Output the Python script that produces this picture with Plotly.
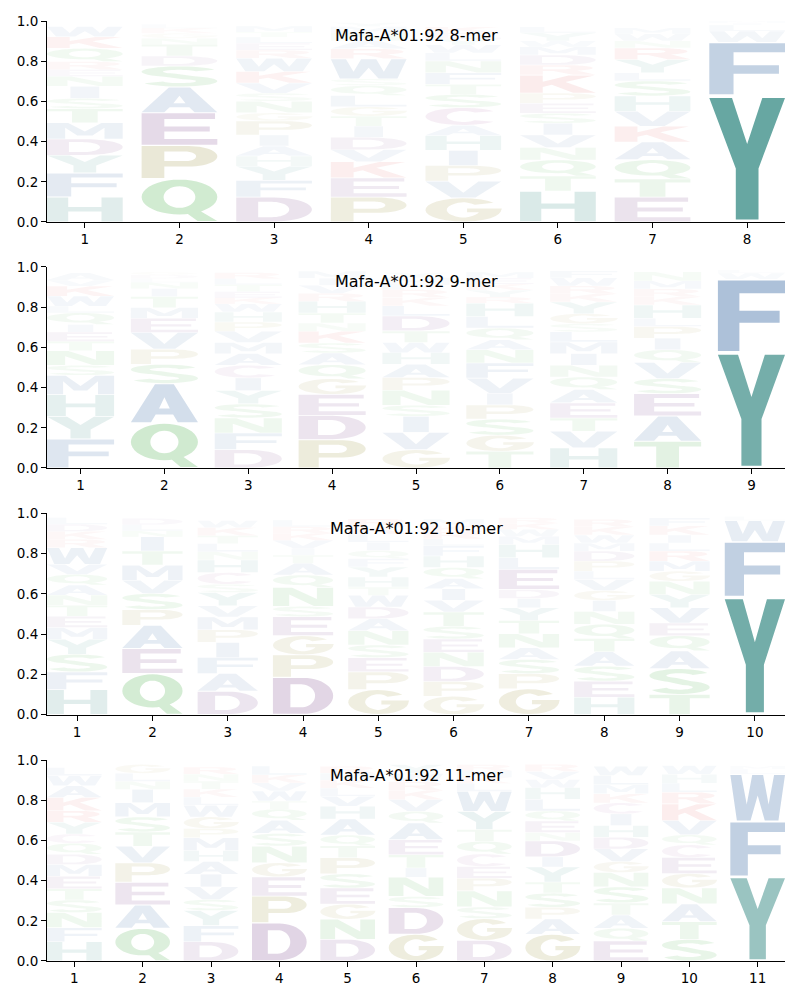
import math
import plotly.graph_objects as go

# ---------------- data (letters bottom->top, heights = probabilities) ----------------
allele = "Mafa-A*01:92"
lengths = [8, 9, 10, 11]

mer8_letters = ["HFYDMTSINERQKW", "QPEASDTNGKL", "DFYHAIPGNSVKWRELTM", "PEKVDITGLQSWRANMY",
                "GVPIHACSTFNLWYEK", "HTQNVISEPKRDMWYL", "ETQAKVHSLYRNWM", "YFWLIM"]
mer8_heights = [
    [.124, .12, .088, .081, .081, .07, .051, .06, .05, .033, .04, .066, .058, .05],
    [.215, .166, .163, .128, .104, .05, .058, .03, .025, .025, .02],
    [.124, .083, .071, .05, .05, .055, .07, .04, .058, .04, .05, .058, .066, .04, .035, .03, .025, .03],
    [.124, .096, .08, .06, .061, .056, .05, .046, .056, .05, .033, .1, .05, .04, .04, .03, .02],
    [.12, .083, .078, .075, .075, .05, .088, .066, .05, .058, .058, .04, .04, .03, .03, .03],
    [.154, .075, .08, .061, .063, .058, .05, .05, .05, .09, .05, .05, .04, .03, .04, .03],
    [.124, .09, .096, .088, .078, .075, .076, .075, .04, .066, .058, .035, .035, .03],
    [.63, .265, .055, .03, .01, .01],
]

mer9_letters = ["FYHMSNTEIQLWKVA", "QASPVEMTINLDG", "DFNSYICAMVPHWKETLR", "PDEGQASKNTHRVIM",
                "GVISNPAHWTDLKRFMY", "TGSPIVFNAQLHRYKEM", "HVTEAQNIMLSGYKRWF", "TAESVQIPLHKRMN", "YFWL"]
mer9_heights = [
    [.144, .113, .108, .096, .05, .073, .046, .046, .038, .058, .033, .05, .05, .03, .036],
    [.224, .196, .096, .075, .083, .071, .053, .055, .04, .03, .02, .018, .015],
    [.091, .083, .075, .07, .066, .063, .063, .058, .055, .056, .046, .05, .041, .03, .03, .035, .03, .03],
    [.141, .121, .104, .078, .07, .058, .05, .058, .041, .05, .058, .04, .04, .035, .035],
    [.091, .086, .08, .055, .075, .063, .066, .058, .05, .058, .075, .05, .04, .04, .03, .03, .025],
    [.083, .08, .08, .071, .058, .075, .075, .066, .05, .058, .058, .066, .03, .035, .03, .03, .03],
    [.1, .083, .066, .075, .066, .063, .058, .058, .058, .05, .041, .05, .058, .04, .04, .04, .035],
    [.133, .126, .111, .075, .08, .063, .058, .058, .041, .066, .04, .04, .04, .045],
    [.575, .365, .03, .015],
]

mer10_letters = ["HFSYMETNAQVWRKDL", "QEAPSVMTINLD", "DAFIPMVYSCHNLTKW", "DPGESNQATIVKRL",
                 "GPESNADWTHYFQILKR", "GPDNESTVIAQHFLRKM", "GPSANTYIDELHMWKR", "HESATQNIGVLPDMWKR",
                 "TSAQEVYNGMRLIKF", "YFWL"]
mer10_heights = [
    [.124, .088, .088, .075, .058, .056, .055, .05, .05, .053, .05, .083, .041, .04, .035, .033],
    [.204, .124, .116, .078, .08, .066, .075, .07, .071, .03, .03, .031],
    [.116, .088, .08, .075, .063, .063, .056, .066, .041, .058, .063, .041, .04, .04, .04, .035],
    [.186, .111, .095, .095, .051, .095, .061, .058, .041, .033, .04, .035, .033, .033],
    [.124, .088, .071, .063, .071, .06, .058, .058, .041, .05, .05, .041, .041, .041, .04, .04, .036],
    [.091, .073, .075, .071, .066, .063, .071, .058, .058, .05, .055, .058, .05, .035, .035, .03, .033],
    [.128, .075, .071, .058, .07, .066, .063, .046, .045, .1, .058, .066, .04, .035, .03, .028],
    [.086, .08, .075, .071, .066, .071, .063, .055, .05, .055, .041, .05, .05, .04, .04, .04, .038],
    [.1, .129, .088, .075, .063, .076, .066, .066, .05, .05, .05, .04, .04, .045, .04],
    [.585, .275, .105, .02],
]

mer11_letters = ["HFNSTEMDQCYRKAWL", "QAEPVTSMINLG", "DFYSVIAHMPGWLKTNR", "DPEGNSAQTWVKL",
                 "DNGESPTQAHVLKMR", "GDSNITEAQVKRWY", "DGSNPECQTYWLKMR", "GAPSTYIDNEQLHWVR",
                 "EQATSNGVDHICKMLW", "STANGECQVKRLHW", "YFWLM"]
mer11_heights = [
    [.096, .07, .075, .063, .055, .063, .058, .051, .055, .046, .058, .058, .066, .058, .05, .041],
    [.163, .116, .113, .096, .083, .071, .075, .071, .066, .04, .04, .044],
    [.096, .08, .075, .055, .063, .063, .063, .055, .063, .046, .058, .058, .04, .04, .04, .035, .035],
    [.19, .133, .096, .07, .083, .063, .066, .055, .04, .05, .04, .04, .044],
    [.108, .1, .075, .08, .071, .08, .06, .053, .08, .063, .05, .04, .04, .035, .034],
    [.133, .133, .055, .096, .046, .066, .075, .083, .058, .058, .045, .045, .04, .044],
    [.103, .108, .058, .08, .063, .058, .063, .063, .058, .09, .1, .04, .03, .033, .03],
    [.133, .076, .058, .071, .055, .075, .05, .08, .041, .058, .05, .058, .058, .04, .04, .036],
    [.1, .063, .066, .06, .08, .071, .055, .063, .058, .058, .058, .055, .045, .045, .046, .046],
    [.108, .088, .088, .08, .071, .08, .063, .05, .071, .083, .058, .045, .044, .044],
    [.42, .275, .235, .025, .015],
]

panel_letters = [mer8_letters, mer9_letters, mer10_letters, mer11_letters]
panel_heights = [mer8_heights, mer9_heights, mer10_heights, mer11_heights]

# ---------------- colours ----------------
BLUE = (29, 85, 151)
TEAL = (15, 115, 107)
GREEN = (44, 160, 44)
OLIVE = (128, 118, 10)
PURPLE = (95, 30, 115)
RED = (214, 39, 40)
MAUVE = (150, 60, 140)
COLOR = {}
for c in "AVLIMFW":
    COLOR[c] = BLUE
for c in "YH":
    COLOR[c] = TEAL
for c in "STNQ":
    COLOR[c] = GREEN
for c in "GP":
    COLOR[c] = OLIVE
for c in "DE":
    COLOR[c] = PURPLE
for c in "KR":
    COLOR[c] = RED
COLOR["C"] = MAUVE


# ---------------- glyph outlines in a unit box ----------------
def arc(cx, cy, rx, ry, a0, a1, n=24):
    pts = []
    for i in range(n + 1):
        t = math.radians(a0 + (a1 - a0) * i / n)
        pts.append((cx + rx * math.cos(t), cy + ry * math.sin(t)))
    return pts


def stroke(line, tx, ty):
    P = [(u / tx, v / ty) for u, v in line]
    n = len(P)
    normals = []
    for i in range(n - 1):
        dx = P[i + 1][0] - P[i][0]
        dy = P[i + 1][1] - P[i][1]
        L = math.hypot(dx, dy) or 1.0
        normals.append((-dy / L, dx / L))
    left, right = [], []
    for i in range(n):
        if i == 0:
            nx, ny = normals[0]
            m = 0.5
        elif i == n - 1:
            nx, ny = normals[-1]
            m = 0.5
        else:
            a, b = normals[i - 1], normals[i]
            sx, sy = a[0] + b[0], a[1] + b[1]
            L = math.hypot(sx, sy)
            if L < 1e-9:
                nx, ny = a
                m = 0.5
            else:
                nx, ny = sx / L, sy / L
                d = nx * a[0] + ny * a[1]
                m = 0.5 / max(d, 0.35)
        x, y = P[i]
        left.append(((x + nx * m) * tx, (y + ny * m) * ty))
        right.append(((x - nx * m) * tx, (y - ny * m) * ty))
    return left + right[::-1]


def rect(u0, v0, u1, v1):
    return [(u0, v0), (u1, v0), (u1, v1), (u0, v1)]


TX, TY = 0.28, 0.17
GLYPHS = {
    "A": ([[(0, 0), (0.3, 0), (0.37, 0.2), (0.63, 0.2), (0.7, 0), (1, 0), (0.64, 1), (0.36, 1)]],
          [[(0.42, 0.36), (0.58, 0.36), (0.5, 0.66)]]),
    "C": ([stroke(arc(0.5, 0.5, 0.36, 0.415, 40, 320), TX, TY)], []),
    "D": ([[(0, 0)] + arc(0.5, 0.5, 0.5, 0.5, -90, 90) + [(0, 1)]],
          [[(0.29, 0.18)] + arc(0.47, 0.5, 0.23, 0.32, -90, 90) + [(0.29, 0.82)]]),
    "E": ([[(0, 0), (1, 0), (1, 0.18), (0.3, 0.18), (0.3, 0.42), (0.9, 0.42), (0.9, 0.58),
            (0.3, 0.58), (0.3, 0.82), (0.97, 0.82), (0.97, 1), (0, 1)]], []),
    "F": ([[(0, 0), (0.32, 0), (0.32, 0.4), (0.92, 0.4), (0.92, 0.57), (0.32, 0.57),
            (0.32, 0.82), (1, 0.82), (1, 1), (0, 1)]], []),
    "G": ([stroke(arc(0.5, 0.5, 0.36, 0.415, 40, 350) + [(0.86, 0.48), (0.55, 0.48)], TX, TY)], []),
    "H": ([[(0, 0), (0.28, 0), (0.28, 0.42), (0.72, 0.42), (0.72, 0), (1, 0), (1, 1),
            (0.72, 1), (0.72, 0.6), (0.28, 0.6), (0.28, 1), (0, 1)]], []),
    "I": ([rect(0.31, 0, 0.69, 1)], []),
    "K": ([[(0, 0), (0.3, 0), (0.3, 0.33), (0.42, 0.46), (0.7, 0), (1, 0), (0.6, 0.62),
            (0.98, 1), (0.64, 1), (0.3, 0.63), (0.3, 1), (0, 1)]], []),
    "L": ([[(0, 0), (1, 0), (1, 0.18), (0.32, 0.18), (0.32, 1), (0, 1)]], []),
    "M": ([[(0, 0), (0.24, 0), (0.24, 0.7), (0.4, 0.2), (0.6, 0.2), (0.76, 0.7), (0.76, 0),
            (1, 0), (1, 1), (0.72, 1), (0.5, 0.45), (0.28, 1), (0, 1)]], []),
    "N": ([[(0, 0), (0.27, 0), (0.27, 0.62), (0.68, 0), (1, 0), (1, 1), (0.73, 1),
            (0.73, 0.38), (0.32, 1), (0, 1)]], []),
    "P": ([[(0, 0), (0.3, 0), (0.3, 0.36)] + arc(0.62, 0.68, 0.38, 0.32, -90, 90) + [(0, 1)]],
          [[(0.3, 0.53)] + arc(0.58, 0.68, 0.14, 0.15, -90, 90) + [(0.3, 0.83)]]),
    "Q": ([arc(0.5, 0.58, 0.5, 0.42, 0, 360, 40),
           [(0.56, 0.24), (0.78, 0.24), (1.0, 0.0), (0.74, 0.0)]],
          [arc(0.5, 0.58, 0.21, 0.26, 0, 360, 32)]),
    "R": ([[(0, 0), (0.3, 0), (0.3, 0.4), (0.44, 0.4), (0.7, 0), (1, 0), (0.75, 0.44)]
           + arc(0.6, 0.71, 0.36, 0.29, -65, 90) + [(0, 1)]],
          [[(0.3, 0.57)] + arc(0.54, 0.705, 0.13, 0.135, -90, 90) + [(0.3, 0.84)]]),
    "S": ([stroke(arc(0.5, 0.735, 0.36, 0.18, 20, 250) + arc(0.5, 0.265, 0.36, 0.18, 70, -160),
                  TX, TY)], []),
    "T": ([[(0.33, 0), (0.67, 0), (0.67, 0.82), (1, 0.82), (1, 1), (0, 1), (0, 0.82), (0.33, 0.82)]], []),
    "V": ([[(0, 1), (0.3, 1), (0.5, 0.3), (0.7, 1), (1, 1), (0.66, 0), (0.34, 0)]], []),
    "W": ([[(0, 1), (0.2, 1), (0.3, 0.35), (0.4, 1), (0.6, 1), (0.7, 0.35), (0.8, 1), (1, 1),
            (0.88, 0), (0.63, 0), (0.5, 0.55), (0.37, 0), (0.12, 0)]], []),
    "Y": ([[(0, 1), (0.3, 1), (0.5, 0.62), (0.7, 1), (1, 1), (0.65, 0.42), (0.65, 0),
            (0.35, 0), (0.35, 0.42)]], []),
}


def signed_area(poly):
    s = 0.0
    for i in range(len(poly)):
        x1, y1 = poly[i]
        x2, y2 = poly[(i + 1) % len(poly)]
        s += x1 * y2 - x2 * y1
    return s / 2


def orient(poly, ccw):
    return poly if (signed_area(poly) > 0) == ccw else poly[::-1]


ORIENTED = {k: [orient(p, True) for p in o] + [orient(p, False) for p in h]
            for k, (o, h) in GLYPHS.items()}


def glyph_path(letter, xc, w, y0, h):
    pad = 0.02 * h
    hh = h - 2 * pad
    parts = []
    for poly in ORIENTED[letter]:
        pts = [f"{xc - w / 2 + u * w:.4f},{y0 + pad + v * hh:.5f}" for u, v in poly]
        parts.append("M" + " L".join(pts) + " Z")
    return " ".join(parts)


# ---------------- figure ----------------
domains = [[0.7862, 1.0], [0.5245, 0.7383], [0.2622, 0.4761], [0.0, 0.2138]]
LETTER_W = 0.8

fig = go.Figure()
shapes = []
annotations = []
layout_axes = {}
for i, (n, letters, heights) in enumerate(zip(lengths, panel_letters, panel_heights), start=1):
    xr = "x" if i == 1 else f"x{i}"
    yr = "y" if i == 1 else f"y{i}"
    positions = list(range(1, n + 1))
    for pos, lets, hs in zip(positions, letters, heights):
        base = 0.0
        for ch, hv in zip(lets, hs):
            r, g, b = COLOR[ch]
            shapes.append(dict(type="path", path=glyph_path(ch, pos, LETTER_W, base, hv),
                               xref=xr, yref=yr, fillcolor=f"rgba({r},{g},{b},{min(1.0, hv):.3f})",
                               line=dict(width=0), fillrule="nonzero", layer="below"))
            base += hv
    fig.add_trace(go.Scatter(x=[positions[0]], y=[0], xaxis=xr, yaxis=yr, mode="markers",
                             marker=dict(opacity=0), hoverinfo="skip", showlegend=False))
    axis_common = dict(ticks="outside", ticklen=5, tickwidth=1, tickcolor="black",
                       showline=True, linecolor="black", linewidth=1, showgrid=False,
                       zeroline=False, mirror=False, automargin=False,
                       tickfont=dict(family="DejaVu Sans", size=13.5, color="black"))
    layout_axes["xaxis" if i == 1 else f"xaxis{i}"] = dict(
        domain=[0, 1], anchor=yr, range=[0.6, n + 0.4], tickmode="array",
        tickvals=positions, ticktext=[str(p) for p in positions], **axis_common)
    layout_axes["yaxis" if i == 1 else f"yaxis{i}"] = dict(
        domain=domains[i - 1], anchor=xr, range=[0, 1], tickmode="array",
        tickvals=[0, 0.2, 0.4, 0.6, 0.8, 1.0],
        ticktext=["0.0", "0.2", "0.4", "0.6", "0.8", "1.0"], **axis_common)
    annotations.append(dict(text=f"{allele} {n}-mer", x=0.5, y=1 - 15 / 201,
                            xref=f"{xr} domain", yref=f"{yr} domain", showarrow=False,
                            xanchor="center", yanchor="middle",
                            font=dict(family="DejaVu Sans", size=16, color="black")))

# the page body adds an 8px offset, so margins are shifted to place the axes as in the reference
fig.update_layout(width=800, height=1000, margin=dict(l=39, r=23, t=13, b=47, autoexpand=False),
                  plot_bgcolor="white", paper_bgcolor="white", showlegend=False,
                  shapes=shapes, annotations=annotations, **layout_axes)

fig.write_html("out.html")
